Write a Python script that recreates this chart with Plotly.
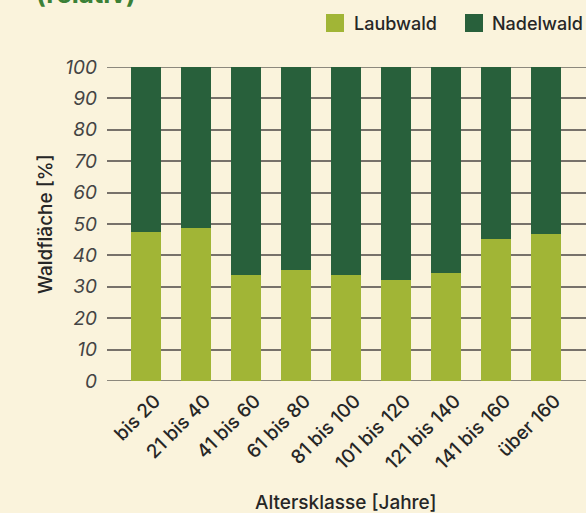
import plotly.graph_objects as go

categories = ["bis 20", "21 bis 40", "41 bis 60", "61 bis 80", "81 bis 100",
              "101 bis 120", "121 bis 140", "141 bis 160", "über 160"]
laubwald = [47.4, 48.7, 33.8, 35.4, 33.8, 32.2, 34.4, 45.2, 46.8]
nadelwald = [52.6, 51.3, 66.2, 64.6, 66.2, 67.8, 65.6, 54.8, 53.2]
y_ticks = [0, 10, 20, 30, 40, 50, 60, 70, 80, 90, 100]

C_LAUB = "#A1B536"
C_NADEL = "#28603B"
BG = "#FAF3DC"
FONT = "Inter"
TXT = "#262626"

W, H = 586, 513
ML, MR, MT, MB = 107, 0, 67, 132
PW, PH = W - ML - MR, H - MT - MB


def px(x):
    return (x - ML) / PW


def py(y):
    return (H - MB - y) / PH


fig = go.Figure()
fig.add_trace(go.Bar(x=categories, y=laubwald, name="Laubwald",
                     marker=dict(color=C_LAUB, line=dict(width=0)), width=0.6))
fig.add_trace(go.Bar(x=categories, y=nadelwald, name="Nadelwald",
                     marker=dict(color=C_NADEL, line=dict(width=0)), width=0.6))

shapes = []
for v in y_ticks:
    if v % 20 == 0:
        shapes.append(dict(type="line", xref="paper", yref="y", x0=0, x1=1, y0=v, y1=v,
                           line=dict(color="#1e1e1e", width=1.2), layer="below"))
shapes.append(dict(type="rect", xref="paper", yref="paper", x0=px(326), x1=px(344),
                   y0=py(32), y1=py(14), fillcolor=C_LAUB, line=dict(width=0)))
shapes.append(dict(type="rect", xref="paper", yref="paper", x0=px(465), x1=px(483),
                   y0=py(32), y1=py(14), fillcolor=C_NADEL, line=dict(width=0)))

annotations = [
    dict(text="Laubwald", xref="paper", yref="paper", x=px(352), y=py(23),
         xanchor="left", yanchor="middle", showarrow=False,
         font=dict(family=FONT, size=18, color=TXT, weight=500)),
    dict(text="Nadelwald", xref="paper", yref="paper", x=px(490), y=py(23),
         xanchor="left", yanchor="middle", showarrow=False,
         font=dict(family=FONT, size=18, color=TXT, weight=500)),
    dict(text="(relativ)", xref="paper", yref="paper", x=px(34), y=py(11),
         xanchor="left", yanchor="bottom", showarrow=False,
         font=dict(family=FONT, size=26, color="#3B8036", weight=700)),
    dict(text="Altersklasse [Jahre]", xref="paper", yref="paper", x=px(346), y=py(502),
         xanchor="center", yanchor="middle", showarrow=False,
         font=dict(family=FONT, size=19, color=TXT, weight=500)),
    dict(text="Waldfläche [%]", xref="paper", yref="paper", x=px(45), y=py(224),
         xanchor="center", yanchor="middle", showarrow=False, textangle=-90,
         font=dict(family=FONT, size=19, color=TXT, weight=500)),
]

fig.update_layout(
    width=W, height=H,
    margin=dict(l=ML, r=MR, t=MT, b=MB, pad=0),
    paper_bgcolor=BG, plot_bgcolor=BG,
    barmode="stack",
    showlegend=False,
    shapes=shapes,
    annotations=annotations,
    xaxis=dict(range=[-0.78, 8.8], showgrid=False, zeroline=False,
               showline=False, ticks="", tickangle=-45,
               ticklabelshift=9, ticklabelstandoff=4,
               tickfont=dict(family=FONT, size=19, color=TXT, weight=500)),
    yaxis=dict(range=[0, 100], tickvals=y_ticks, showgrid=True,
               gridcolor="#77716a", gridwidth=1.6, zeroline=False,
               showline=False, ticks="", ticklabelstandoff=9,
               tickfont=dict(family=FONT, size=19, color="#444444", style="italic")),
)

fig.write_html("out.html", config={"displayModeBar": False},
               post_script="document.body.style.margin='0';document.body.style.overflow='hidden';")
